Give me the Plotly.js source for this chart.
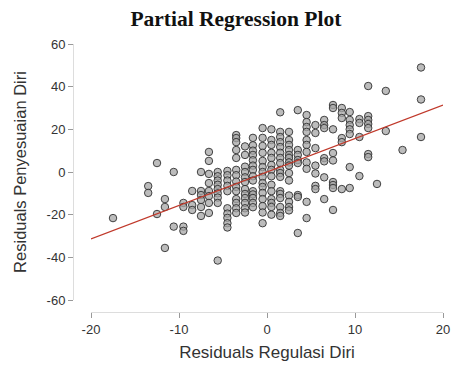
<!DOCTYPE html>
<html>
<head>
<meta charset="utf-8">
<script src="https://cdn.plot.ly/plotly-3.0.1.min.js"></script>
<style>html,body{margin:0;padding:0;background:#fff;}#chart{width:451px;height:368px;}</style>
</head>
<body>
<div id="chart"></div>
<script>
// Residual columns (x) and the y residuals read at each column
const colX = [-17.5, -13.5, -12.5, -11.6, -10.6, -9.5, -8.5, -7.5, -6.6, -5.6, -4.5, -3.5, -2.5, -1.6, -0.5, 0.5, 1.5, 2.5, 3.5, 4.5, 5.5, 6.5, 7.5, 8.5, 9.4, 10.5, 11.5, 12.5, 13.5, 15.4, 17.5];
const colY = [
  [-21.6],
  [-6.6, -9.8],
  [4.2, -19.7],
  [-12.7, -16.4, -35.6],
  [0, -25.6],
  [-14.5, -16.4, -25.6, -27.6],
  [-8.9, -15.5, -17.8],
  [0, -8.9, -10.8, -13.1, -16.4, -20.6],
  [9.4, 5.2, -0.9, -5.2, -8.9, -11.3, -14.5, -19.2],
  [0, -2, -4, -6, -8, -10, -12, -14.5, -41.5],
  [0.5, -1.5, -4, -6.5, -9, -17, -19.5, -21.5, -24, -26],
  [17.3, 15.9, 14, 10.3, 6.6, 1, -1.5, -4.5, -7, -9, -12.7, -14.5, -17, -19.2],
  [12, 8, 2.5, 0, -2.5, -4.7, -8, -10.3, -12.2, -14.5, -17, -19],
  [16, 12.5, 10, 8, 5.5, 3, 1, -2, -4, -9, -10.5, -12.2, -14.5, -16.5],
  [20.6, 16, 12.2, 9, 5.2, 2.3, 0, -2.3, -5.2, -7, -9.8, -12.7, -16, -19, -24],
  [20, 15, 12.7, 9, 6.6, 3.3, 1, -2, -6, -9, -12.7, -14.5, -16.4, -20],
  [28, 18.8, 16.4, 14, 11.7, 9, 6.6, 4.2, 1, -0.5, -2.3, -9, -10.3, -12.2, -16.4, -19.2, -20.6],
  [18.8, 15, 12.7, 10.3, 8, 6.6, 4.5, 3, -0.5, -4, -11, -14, -16.4, -18],
  [29, 10.3, 8, 5.6, 4.2, -10.8, -11.7, -28.6],
  [26.7, 23.4, 21.1, 18.8, 15, 12.7, 9.4, 4.5, 1.5, -14, -21.6],
  [22, 18.3, 11.2, 3, -0.7, -6.5, -8],
  [24.4, 22, 20.6, 6.5, 5, -2.5, -12.7],
  [31.4, 30, 20, 8.9, 5.4, -4.7, -6.1, -7.5, -17.8],
  [30, 27.7, 25.3, 15.9, 14, -8],
  [28.1, 24.4, 22, 20, 17.8, 2.3, -7.5],
  [24.8, 23, 16.4, -1.9],
  [40.3, 26.2, 24.4, 22.5, 20.6, 8.4, 7],
  [-5.6],
  [38, 19.2],
  [10.3],
  [49, 34, 16.4]
];
// Fitted regression line end points
const lineX = [-20, 20];
const lineY = [-31.4, 31.4];
// Tick labels
const yTickVals = [60, 40, 20, 0, -20, -40, -60];
const yTickText = ["60", "40", "20", "0", "-20", "-40", "-60"];
const xTickVals = [-20, -10, 0, 10, 20];
const xTickText = ["-20", "-10", "0", "10", "20"];

const px = [], py = [];
colX.forEach((x, i) => colY[i].forEach(y => { px.push(x); py.push(y); }));

const W = 451, H = 368;
const mL = 73, mR = 8, mT = 44, mB = 56;
const pw = W - mL - mR, ph = H - mT - mB;

const data = [
  {
    type: 'scatter', mode: 'markers', x: px, y: py,
    marker: {size: 7.5, color: 'rgba(165,165,165,0.75)', line: {color: 'rgba(40,40,40,0.85)', width: 1}},
    hoverinfo: 'skip', cliponaxis: false
  },
  {
    type: 'scatter', mode: 'lines', x: lineX, y: lineY,
    line: {color: '#c0392b', width: 1.2}, hoverinfo: 'skip'
  }
];

const sans = 'Liberation Sans, Arial, sans-serif';
const tickFont = {family: sans, size: 13, color: '#333'};
const layout = {
  width: W, height: H,
  margin: {l: mL, r: mR, t: mT, b: mB, pad: 0},
  paper_bgcolor: '#fff', plot_bgcolor: '#fff',
  showlegend: false,
  title: {
    text: '<b>Partial Regression Plot</b>',
    font: {family: 'Liberation Serif, Times New Roman, serif', size: 21.5, color: '#111'},
    x: 0.523, xref: 'container', y: 0.95, yref: 'container', xanchor: 'center', yanchor: 'middle'
  },
  xaxis: {
    range: [-20, 20], domain: [(91 - mL) / pw, 1],
    anchor: 'free', position: 0,
    showgrid: false, zeroline: false,
    showline: true, linecolor: '#ddd', linewidth: 1,
    ticks: 'outside', ticklen: 5, tickcolor: '#999', tickwidth: 1,
    tickvals: xTickVals, ticktext: xTickText, tickfont: tickFont,
    title: {text: 'Residuals Regulasi Diri', font: {family: sans, size: 17, color: '#333'}, standoff: 10}
  },
  yaxis: {
    range: [-60, 60], domain: [(312 - 300) / ph, 1],
    anchor: 'free', position: 0,
    showgrid: false, zeroline: false,
    showline: true, linecolor: '#ddd', linewidth: 1,
    ticks: 'outside', ticklen: 5, tickcolor: '#999', tickwidth: 1,
    tickvals: yTickVals, ticktext: yTickText, tickfont: tickFont,
    title: {text: 'Residuals Penyesuaian Diri', font: {family: sans, size: 16.5, color: '#333'}, standoff: 14}
  }
};

Plotly.newPlot('chart', data, layout, {staticPlot: true, displayModeBar: false});
</script>
</body>
</html>
